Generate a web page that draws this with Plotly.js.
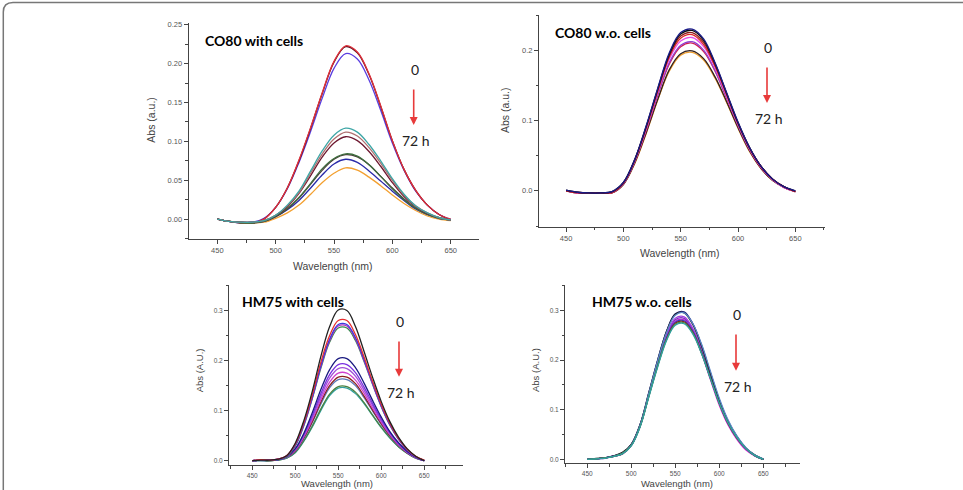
<!DOCTYPE html>
<html>
<head>
<meta charset="utf-8">
<script src="https://cdn.plot.ly/plotly-3.0.1.min.js"></script>
<style>html,body{margin:0;padding:0;background:#fff;}#chart{width:963px;height:490px;}</style>
</head>
<body>
<div id="chart"></div>
<script>
// ---------- DATA ----------
const wavelength = [450,460,470,480,490,500,510,520,530,540,550,560,570,580,590,600,610,620,630,640,650];

// Panel 1: CO80 with cells
const co80Cells_red      = [0.000,-0.003,-0.005,-0.005,0.000,0.015,0.040,0.076,0.118,0.163,0.203,0.223,0.215,0.187,0.146,0.101,0.064,0.037,0.018,0.006,0.000];
const co80Cells_maroon   = [0.000,-0.003,-0.005,-0.005,0.000,0.015,0.040,0.075,0.117,0.162,0.202,0.222,0.214,0.186,0.145,0.101,0.064,0.037,0.018,0.006,-0.001];
const co80Cells_violet   = [0.000,-0.003,-0.005,-0.004,0.001,0.015,0.039,0.073,0.113,0.156,0.194,0.213,0.206,0.179,0.140,0.098,0.063,0.036,0.018,0.006,0.000];
const co80Cells_teal     = [0.000,-0.003,-0.004,-0.004,-0.002,0.005,0.018,0.036,0.062,0.088,0.108,0.117,0.112,0.096,0.075,0.052,0.032,0.017,0.008,0.002,-0.001];
const co80Cells_rosy     = [0.000,-0.003,-0.004,-0.004,-0.002,0.005,0.017,0.034,0.059,0.084,0.103,0.112,0.107,0.092,0.072,0.050,0.031,0.017,0.008,0.002,-0.001];
const co80Cells_wine     = [0.000,-0.003,-0.004,-0.004,-0.002,0.005,0.016,0.033,0.056,0.080,0.098,0.106,0.101,0.087,0.068,0.047,0.029,0.016,0.007,0.002,-0.001];
const co80Cells_green    = [0.000,-0.003,-0.005,-0.005,-0.003,0.004,0.014,0.028,0.046,0.065,0.078,0.084,0.081,0.070,0.055,0.039,0.025,0.014,0.006,0.001,-0.001];
const co80Cells_dark     = [0.000,-0.003,-0.004,-0.005,-0.003,0.003,0.013,0.027,0.045,0.063,0.077,0.083,0.080,0.070,0.055,0.040,0.026,0.014,0.006,0.002,-0.001];
const co80Cells_blue     = [0.000,-0.003,-0.004,-0.004,-0.003,0.003,0.012,0.024,0.040,0.057,0.071,0.077,0.073,0.062,0.049,0.036,0.024,0.013,0.006,0.001,-0.001];
const co80Cells_orange   = [0.000,-0.003,-0.004,-0.005,-0.004,0.001,0.008,0.018,0.032,0.047,0.059,0.066,0.063,0.054,0.043,0.031,0.020,0.011,0.004,0.000,-0.002];

// Panel 2: CO80 w.o. cells
const co80NoCells_navy    = [0.001,-0.002,-0.003,-0.003,-0.001,0.012,0.045,0.093,0.146,0.196,0.225,0.230,0.216,0.182,0.140,0.098,0.062,0.035,0.017,0.006,0.000];
const co80NoCells_black   = [0.001,-0.002,-0.003,-0.003,-0.001,0.012,0.045,0.092,0.145,0.194,0.223,0.228,0.214,0.181,0.139,0.097,0.062,0.035,0.017,0.006,0.000];
const co80NoCells_darkred = [0.000,-0.002,-0.003,-0.003,-0.002,0.011,0.044,0.091,0.143,0.192,0.220,0.225,0.211,0.179,0.138,0.096,0.061,0.035,0.017,0.006,-0.001];
const co80NoCells_red     = [0.000,-0.003,-0.003,-0.003,-0.002,0.011,0.044,0.090,0.142,0.190,0.217,0.222,0.208,0.177,0.137,0.096,0.061,0.035,0.017,0.006,-0.001];
const co80NoCells_magenta = [0.000,-0.003,-0.003,-0.003,-0.002,0.011,0.043,0.089,0.140,0.187,0.213,0.218,0.205,0.175,0.135,0.095,0.060,0.034,0.016,0.005,-0.001];
const co80NoCells_purple  = [0.000,-0.003,-0.003,-0.003,-0.002,0.010,0.042,0.087,0.137,0.182,0.207,0.212,0.200,0.171,0.133,0.093,0.059,0.034,0.016,0.005,-0.001];
const co80NoCells_crimson = [0.000,-0.003,-0.003,-0.003,-0.003,0.010,0.042,0.086,0.136,0.180,0.205,0.210,0.198,0.170,0.132,0.093,0.059,0.033,0.016,0.005,-0.001];
const co80NoCells_brown   = [0.000,-0.003,-0.003,-0.003,-0.003,0.009,0.040,0.083,0.130,0.172,0.195,0.199,0.188,0.162,0.127,0.090,0.057,0.032,0.015,0.005,-0.001];
const co80NoCells_orange  = [0.000,-0.003,-0.003,-0.003,-0.003,0.009,0.039,0.082,0.129,0.170,0.193,0.197,0.186,0.160,0.126,0.089,0.056,0.032,0.015,0.005,-0.001];

// Panel 3: HM75 with cells
const hm75Cells_black    = [0.000,0.001,0.001,0.003,0.010,0.035,0.080,0.140,0.210,0.268,0.301,0.300,0.268,0.218,0.166,0.118,0.078,0.047,0.024,0.009,0.000];
const hm75Cells_red      = [0.000,0.002,0.001,0.003,0.010,0.033,0.076,0.133,0.198,0.250,0.280,0.280,0.252,0.207,0.158,0.113,0.075,0.045,0.023,0.009,0.001];
const hm75Cells_blue     = [0.000,0.001,0.001,0.002,0.009,0.031,0.073,0.128,0.191,0.243,0.272,0.272,0.246,0.202,0.155,0.110,0.073,0.044,0.022,0.008,0.000];
const hm75Cells_purple   = [0.000,0.001,0.001,0.003,0.010,0.031,0.072,0.127,0.189,0.240,0.269,0.269,0.243,0.200,0.153,0.109,0.072,0.043,0.022,0.008,0.000];
const hm75Cells_green    = [0.000,0.001,0.000,0.002,0.008,0.029,0.070,0.125,0.186,0.237,0.265,0.265,0.240,0.198,0.152,0.108,0.071,0.043,0.022,0.008,0.000];
const hm75Cells_navy     = [0.000,0.001,0.001,0.002,0.008,0.024,0.055,0.097,0.143,0.182,0.204,0.204,0.186,0.155,0.120,0.087,0.058,0.036,0.019,0.007,0.000];
const hm75Cells_violet   = [0.000,0.001,0.001,0.002,0.008,0.023,0.052,0.091,0.135,0.172,0.192,0.192,0.176,0.147,0.114,0.083,0.056,0.034,0.018,0.007,0.000];
const hm75Cells_orchid   = [0.000,0.001,0.001,0.002,0.007,0.022,0.050,0.087,0.129,0.165,0.184,0.184,0.169,0.141,0.110,0.080,0.054,0.033,0.017,0.006,0.000];
const hm75Cells_magenta  = [0.000,0.001,0.001,0.003,0.008,0.021,0.048,0.083,0.123,0.157,0.175,0.175,0.161,0.135,0.105,0.077,0.052,0.032,0.017,0.006,0.000];
const hm75Cells_darkred  = [0.000,0.001,0.000,0.002,0.007,0.020,0.046,0.079,0.118,0.150,0.167,0.167,0.154,0.129,0.101,0.074,0.050,0.031,0.016,0.006,0.000];
const hm75Cells_steel    = [0.000,0.000,0.000,0.002,0.006,0.019,0.044,0.077,0.114,0.146,0.162,0.162,0.150,0.126,0.099,0.072,0.049,0.030,0.016,0.006,0.000];
const hm75Cells_olive    = [0.000,0.000,0.000,0.001,0.005,0.017,0.040,0.070,0.104,0.133,0.148,0.148,0.137,0.116,0.091,0.067,0.046,0.028,0.015,0.005,0.000];
const hm75Cells_teal     = [0.000,0.000,0.000,0.001,0.005,0.016,0.039,0.068,0.101,0.130,0.145,0.145,0.134,0.114,0.090,0.066,0.045,0.028,0.015,0.005,0.000];

// Panel 4: HM75 w.o. cells
const hm75NoCells_navy    = [0.000,0.001,0.003,0.007,0.013,0.030,0.070,0.135,0.200,0.258,0.293,0.297,0.273,0.229,0.174,0.120,0.077,0.046,0.023,0.009,0.000];
const hm75NoCells_black   = [0.000,0.002,0.003,0.007,0.014,0.030,0.070,0.134,0.199,0.257,0.292,0.295,0.271,0.227,0.173,0.119,0.076,0.045,0.023,0.009,0.000];
const hm75NoCells_steel   = [0.000,0.001,0.003,0.006,0.012,0.029,0.069,0.133,0.198,0.255,0.290,0.295,0.273,0.231,0.177,0.123,0.079,0.047,0.024,0.009,0.001];
const hm75NoCells_violet  = [0.000,0.001,0.003,0.007,0.012,0.029,0.068,0.131,0.194,0.250,0.284,0.287,0.264,0.221,0.168,0.116,0.074,0.044,0.022,0.008,0.000];
const hm75NoCells_purple  = [0.000,0.001,0.003,0.006,0.012,0.029,0.068,0.130,0.193,0.248,0.281,0.284,0.261,0.218,0.165,0.114,0.072,0.043,0.021,0.008,0.000];
const hm75NoCells_magenta = [0.000,0.001,0.002,0.006,0.011,0.028,0.067,0.129,0.191,0.245,0.278,0.281,0.257,0.213,0.160,0.109,0.069,0.040,0.019,0.007,0.000];
const hm75NoCells_blue    = [0.000,0.001,0.003,0.006,0.012,0.028,0.067,0.129,0.190,0.244,0.276,0.279,0.257,0.215,0.164,0.114,0.073,0.043,0.022,0.008,0.000];
const hm75NoCells_darkred = [0.000,0.001,0.003,0.006,0.011,0.028,0.066,0.128,0.189,0.242,0.274,0.277,0.255,0.214,0.163,0.113,0.072,0.043,0.022,0.008,0.000];
const hm75NoCells_green   = [0.000,0.001,0.003,0.006,0.012,0.028,0.066,0.127,0.188,0.241,0.272,0.275,0.254,0.213,0.163,0.113,0.073,0.043,0.022,0.008,0.000];
const hm75NoCells_teal    = [0.000,0.001,0.002,0.006,0.011,0.027,0.065,0.126,0.186,0.239,0.270,0.273,0.252,0.212,0.162,0.113,0.073,0.044,0.022,0.008,0.000];

const panelTitles = ["CO80 with cells", "CO80 w.o. cells", "HM75 with cells", "HM75 w.o. cells"];
const xTitle = "Wavelength (nm)";
const yTitles = ["Abs (a.u.)", "Abs (a.u.)", "Abs (A.U.)", "Abs (A.U.)"];
const timeStart = "0";
const timeEnd = "72 h";

// ---------- TRACES ----------
const panels = [
  {ax: ['x','y'], series: [
    [co80Cells_violet,'#5a3ee0'],[co80Cells_maroon,'#5a1020'],[co80Cells_red,'#e0303a'],
    [co80Cells_orange,'#f3a030'],[co80Cells_blue,'#2a2aa8'],[co80Cells_dark,'#4a3838'],[co80Cells_green,'#3f6f3f'],
    [co80Cells_wine,'#6e1830'],[co80Cells_rosy,'#b07070'],[co80Cells_teal,'#3ea6a6']]},
  {ax: ['x2','y2'], series: [
    [co80NoCells_orange,'#f0a030'],[co80NoCells_brown,'#302020'],[co80NoCells_crimson,'#d02050'],[co80NoCells_purple,'#9040d0'],
    [co80NoCells_magenta,'#e850e8'],[co80NoCells_red,'#e02828'],[co80NoCells_darkred,'#8b1a1a'],[co80NoCells_black,'#101010'],[co80NoCells_navy,'#1a1a88']]},
  {ax: ['x3','y3'], series: [
    [hm75Cells_teal,'#30a0a0'],[hm75Cells_olive,'#4a8040'],[hm75Cells_steel,'#5a7ab8'],[hm75Cells_darkred,'#8a2020'],
    [hm75Cells_magenta,'#d040d0'],[hm75Cells_orchid,'#a050d8'],[hm75Cells_violet,'#7a30e0'],[hm75Cells_navy,'#1a1a80'],
    [hm75Cells_green,'#3a8a50'],[hm75Cells_purple,'#b030c0'],[hm75Cells_blue,'#3a3ae0'],[hm75Cells_red,'#e83030'],[hm75Cells_black,'#222222']]},
  {ax: ['x4','y4'], series: [
    [hm75NoCells_magenta,'#d020d0'],[hm75NoCells_purple,'#8030c0'],[hm75NoCells_violet,'#a040e0'],[hm75NoCells_blue,'#3040c0'],
    [hm75NoCells_darkred,'#802020'],[hm75NoCells_navy,'#1a1a80'],[hm75NoCells_black,'#202020'],
    [hm75NoCells_steel,'#5a88c8'],[hm75NoCells_green,'#4a8a4a'],[hm75NoCells_teal,'#30a0a0']]}
];

const traces = [];
panels.forEach(p => {
  p.series.forEach(([vals, col]) => {
    traces.push({x: wavelength, y: vals, xaxis: p.ax[0], yaxis: p.ax[1], type: 'scatter', mode: 'lines',
      line: {color: col, width: 1.3, shape: 'spline', smoothing: 1}, hoverinfo: 'skip', showlegend: false});
  });
});

// ---------- LAYOUT ----------
const W = 963, H = 490;
const px = v => v / W;
const py = v => 1 - v / H;
const tickFont = s => ({family: 'Liberation Sans, Arial, sans-serif', size: s, color: '#555'});

function xAxis(l, r, range, yanchor, fs) {
  return {domain: [px(l), px(r)], range: range, anchor: yanchor, tick0: 450, dtick: 50,
    showline: true, linecolor: '#444', linewidth: 1, ticks: 'outside', ticklen: 4, tickcolor: '#444',
    minor: {dtick: 25, tick0: 450, ticks: 'outside', ticklen: 2.5, tickcolor: '#444', showgrid: false},
    showgrid: false, zeroline: false, tickfont: tickFont(fs), mirror: false, fixedrange: true};
}
function yAxis(t, b, range, xanchor, dtick, minor, fmt, fs) {
  return {domain: [py(b), py(t)], range: range, anchor: xanchor, tick0: 0, dtick: dtick, tickformat: fmt,
    showline: true, linecolor: '#444', linewidth: 1, ticks: 'outside', ticklen: 4, tickcolor: '#444',
    minor: {dtick: minor, tick0: 0, ticks: 'outside', ticklen: 2.5, tickcolor: '#444', showgrid: false},
    showgrid: false, zeroline: false, tickfont: tickFont(fs), fixedrange: true};
}

const annFont = {family: 'Liberation Sans, Arial, sans-serif', size: 10.5, color: '#444'};
const annFontSm = {family: 'Liberation Sans, Arial, sans-serif', size: 9.5, color: '#444'};
const titleFont = {family: 'Lato, Noto Sans, sans-serif', size: 14, color: '#000', weight: 'bold'};
const markFont = {family: 'Lato, Noto Sans, sans-serif', size: 14, color: '#222'};

function txt(x, y, text, font, opts) {
  return Object.assign({xref: 'paper', yref: 'paper', x: px(x), y: py(y), text: text, showarrow: false,
    font: font, xanchor: 'center', yanchor: 'middle'}, opts || {});
}
function arrow(x, y0, y1) {
  return {xref: 'paper', yref: 'paper', x: px(x), y: py(y1), ax: 0, ay: y0 - y1, axref: 'pixel', ayref: 'pixel',
    text: '', showarrow: true, arrowhead: 2, arrowsize: 1, arrowwidth: 1.6, arrowcolor: '#e83a3a'};
}

const annotations = [
  // panel titles
  txt(202.7, 40.7, '<b>' + panelTitles[0] + '</b>', titleFont, {xanchor: 'left'}),
  txt(553.3, 32.7, '<b>' + panelTitles[1] + '</b>', titleFont, {xanchor: 'left'}),
  txt(240, 301.7, '<b>' + panelTitles[2] + '</b>', titleFont, {xanchor: 'left'}),
  txt(590, 301, '<b>' + panelTitles[3] + '</b>', titleFont, {xanchor: 'left'}),
  // time labels
  txt(415, 69, timeStart, markFont), txt(415.7, 140, timeEnd, markFont),
  txt(768, 47, timeStart, markFont), txt(769.3, 118, timeEnd, markFont),
  txt(400, 321.7, timeStart, markFont), txt(401, 392.7, timeEnd, markFont),
  txt(737, 314, timeStart, markFont), txt(738, 386.7, timeEnd, markFont),
  // arrows
  arrow(413.7, 88, 125), arrow(767, 66, 103), arrow(399, 340, 376.7), arrow(736, 333, 370.7),
  // axis titles
  txt(333.3, 266, xTitle, annFont), txt(150.7, 120, yTitles[0], annFont, {textangle: -90}),
  txt(680, 252.7, xTitle, annFont), txt(505, 110, yTitles[1], annFont, {textangle: -90}),
  txt(336.7, 483.5, xTitle, annFontSm), txt(199.3, 370, yTitles[2], annFontSm, {textangle: -90}),
  txt(676.7, 483.5, xTitle, annFontSm), txt(535, 370, yTitles[3], annFontSm, {textangle: -90})
];

const border = 'M ' + px(3.3) + ',' + py(492) + ' L ' + px(3.3) + ',' + py(12) +
  ' Q ' + px(3.3) + ',' + py(2.5) + ' ' + px(13) + ',' + py(2.5) + ' L ' + px(965) + ',' + py(2.5);

const layout = {
  width: W, height: H, margin: {l: 0, r: 0, t: 0, b: 0},
  paper_bgcolor: '#fff', plot_bgcolor: 'rgba(0,0,0,0)', showlegend: false,
  xaxis:  xAxis(188.7, 479.3, [425.5, 674.5], 'y', 7.5),
  yaxis:  yAxis(23.3, 239.3, [-0.026, 0.252], 'x', 0.05, 0.025, '.2f', 7.5),
  xaxis2: xAxis(539, 825, [426.4, 675.9], 'y2', 7.5),
  yaxis2: yAxis(15, 226.7, [-0.051, 0.250], 'x2', 0.1, 0.05, '.1f', 7.5),
  xaxis3: xAxis(229, 463, [423, 695], 'y3', 6.5),
  yaxis3: yAxis(285, 465, [-0.0086, 0.351], 'x3', 0.1, 0.05, '.1f', 6.5),
  xaxis4: xAxis(565, 800, [424.7, 691.7], 'y4', 6.5),
  yaxis4: yAxis(285, 463.3, [-0.008, 0.351], 'x4', 0.1, 0.05, '.1f', 6.5),
  annotations: annotations,
  shapes: [{type: 'path', xref: 'paper', yref: 'paper', path: border, line: {color: '#777', width: 1.5}}]
};

Plotly.newPlot('chart', traces, layout, {staticPlot: true, displayModeBar: false});
</script>
</body>
</html>
